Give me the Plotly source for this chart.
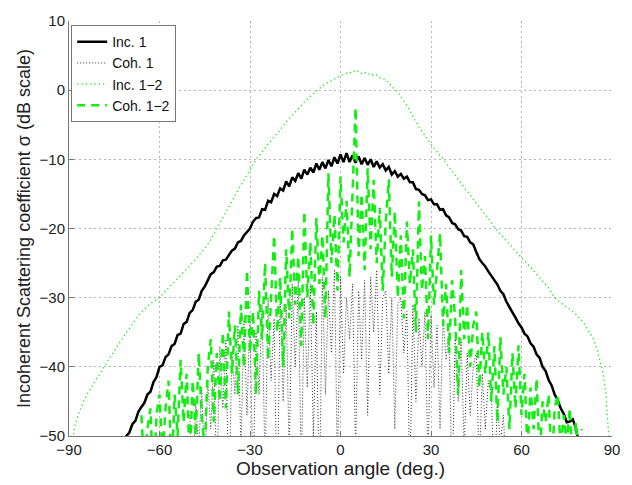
import numpy as np
import plotly.graph_objects as go

# Incoherent, medium 1 (solid black), 1-degree step from -72 to 79
inc1_angles = list(range(-72, 80))
inc1_vals = [-51.5, -50, -49.5, -48.3, -47.8, -46.5, -45.8, -45.2, -44, -43.6,
             -42.2, -41.5, -40, -39.8, -38.6, -38.2, -37, -36.7, -35.4, -35.2,
             -33.8, -33.5, -32.2, -31.8, -30.6, -30.3, -29, -28.4, -27.5, -26.6,
             -26.3, -25.5, -25.4, -24.6, -24.5, -23.8, -23.2, -22.9, -22, -21.8,
             -21, -20.5, -20, -19, -18.5, -18.4, -17.2, -17.3, -16, -16.2,
             -15, -15.3, -14.2, -14.5, -13.2, -13.9, -12.6, -13.1, -12, -12.8,
             -11.5, -12.2, -11.2, -11.9, -10.6, -11.5, -10.4, -11.3, -10.1, -11,
             -9.7, -10.6, -9.3, -10.4, -9.1, -10.4, -9.4, -10.5, -9.6, -10.7,
             -9.8, -10.8, -10, -11.1, -10.3, -11.2, -10.7, -11.6, -11.1, -12.2,
             -11.7, -12.5, -12.1, -12.8, -12.5, -13.3, -13.3, -14.3, -14.4, -15,
             -15.2, -15.9, -15.8, -16.5, -16.5, -17.3, -17.2, -18.1, -18.4, -19.2,
             -19.4, -20.1, -20.3, -21.1, -21.2, -22, -22.3, -23.4, -24.4, -25,
             -25.5, -26.2, -26.8, -27.5, -28.1, -29, -29.5, -30.6, -31.3, -32.2,
             -32.9, -33.7, -34.3, -35.2, -35.6, -36.6, -37.1, -38.2, -38.7, -40,
             -40.6, -41.9, -42.7, -44, -44.8, -46, -46.8, -48, -47.9, -47.6,
             -48.8, -51]

# Coherent, medium 1 (dotted black), 1-degree step from -50 to 55
coh1_angles = list(range(-50, 56))
coh1_vals = [-47, -58, -45, -52, -43, -55, -42, -49, -39, -57,
             -37, -46, -36, -60, -38, -44, -34, -52, -33, -47,
             -32.5, -58, -35, -44, -31, -55, -30, -42, -33, -62,
             -29, -45, -31, -53, -28, -40, -27.7, -56, -30, -43,
             -28, -50, -32, -60, -27, -44, -29, -38, -25.9, -55,
             -27, -41, -30, -36, -28, -52, -29, -39, -27.5, -47,
             -27, -35, -26, -44, -30, -29, -41, -30, -49, -31,
             -30, -38, -32, -57, -31, -45, -33, -40, -32, -54,
             -32.4, -43, -34, -49, -33, -39, -35, -58, -36, -45,
             -36, -52, -38, -47, -40, -38, -55, -41, -49, -42,
             -44, -58, -45, -51, -47, -56]

# Incoherent, media 1-2 (dotted green), 1-degree step from -89 to 89
inc12_angles = list(range(-89, 90))
inc12_vals = [-51, -48.5, -47, -45.8, -44.8, -44, -43.2, -42.6, -41.8, -41.2,
              -40.4, -39.8, -39, -38.4, -37.7, -37, -36.3, -35.6, -35, -34.5,
              -33.8, -33.2, -32.6, -32.1, -31.6, -31.2, -30.9, -30.5, -30.2, -30,
              -29.5, -29.1, -28.6, -28.1, -27.7, -27.2, -26.8, -26.3, -25.9, -25.4,
              -25, -24.4, -24, -23.4, -22.9, -22.3, -21.6, -20.8, -20, -19.3,
              -18.4, -17.6, -16.7, -16, -15.2, -14.5, -13.7, -13, -12.2, -11.5,
              -10.7, -10, -9.5, -9, -8.4, -7.8, -7.3, -6.8, -6.2, -5.7,
              -5.2, -4.6, -4.1, -3.6, -3.1, -2.6, -2.2, -1.7, -1.3, -0.9,
              -0.5, -0.2, 0.2, 0.6, 0.9, 1.1, 1.4, 1.6, 1.9, 2.1,
              2.2, 2.4, 2.6, 2.5, 2.9, 2.7, 2.4, 2.6, 2.3, 2.4,
              2.1, 2.2, 1.8, 1.7, 1.5, 1.0, 0.6, 0.2, -0.3, -0.9,
              -1.5, -2.2, -3, -3.9, -4.6, -5.3, -6, -6.6, -7.2, -7.8,
              -8.4, -9, -9.5, -9.9, -10.5, -11.2, -11.8, -12.4, -13, -13.5,
              -14.1, -14.6, -15.2, -15.7, -16.3, -16.9, -17.5, -18, -18.6, -19.1,
              -19.7, -20.3, -20.8, -21.3, -21.8, -22.3, -22.8, -23.3, -23.7, -24.2,
              -24.7, -25.2, -25.6, -26.1, -26.6, -27.1, -27.5, -28, -28.6, -29.3,
              -30, -30.4, -30.7, -31, -31.3, -31.6, -32, -32.4, -32.8, -33.3,
              -33.9, -34.6, -35.3, -36.1, -37.4, -39, -40.8, -44, -50.5]

# Coherent, media 1-2 (dashed green), 1-degree step from -66 to 80
coh12_angles = list(range(-66, 81))
coh12_vals = [-47, -55, -49, -46, -58, -47, -44, -53, -46, -42,
              -56, -44, -50, -39, -48, -41, -54, -42, -50, -38,
              -47, -52, -40, -36, -48, -38, -45, -35, -46, -32,
              -41, -34, -44, -31, -40, -26, -38, -32, -44, -29,
              -36, -25, -39, -30, -21, -35, -27, -40, -23, -33,
              -20, -31, -24, -37, -17.5, -30, -22, -34, -18.5, -28,
              -21, -33, -12, -25, -18, -29, -12.5, -22, -16, -27,
              -14, -2.5, -24, -15, -26, -11.3, -23, -13, -25, -17,
              -29, -19, -12.9, -27, -17.5, -30, -21, -33, -19, -28,
              -23, -35, -16.1, -29, -24, -36, -21, -31, -26, -20.7,
              -34, -28, -38, -27.5, -33, -44, -26, -36, -31, -40,
              -34, -32, -43, -35, -41, -35, -45, -37, -48, -35.7,
              -44, -40, -49, -38, -46, -36.9, -47, -41, -52, -43,
              -49, -41.7, -53, -45, -48, -44, -55, -46, -44, -52,
              -47, -51, -46, -55, -48, -53, -49]

x_ticks = [-90, -60, -30, 0, 30, 60, 90]
y_ticks = [-50, -40, -30, -20, -10, 0, 10]

FONT = "Liberation Sans, Arial, sans-serif"
GREEN = "#11ee11"

fig = go.Figure()
fig.add_trace(go.Scatter(x=inc1_angles, y=inc1_vals, mode="lines", name="Inc. 1",
                         line=dict(color="black", width=2.5)))
fig.add_trace(go.Scatter(x=coh1_angles, y=coh1_vals, mode="lines", name="Coh. 1",
                         line=dict(color="#333333", width=1, dash="1px,2px")))
fig.add_trace(go.Scatter(x=inc12_angles, y=inc12_vals, mode="lines", name="Inc. 1\u22122",
                         line=dict(color=GREEN, width=1.3, dash="1.3px,3px")))
fig.add_trace(go.Scatter(x=coh12_angles, y=coh12_vals, mode="lines", name="Coh. 1\u22122",
                         line=dict(color=GREEN, width=2.5, dash="8px,6px")))

axis_common = dict(
    showgrid=True, gridcolor="#b4b4b4", griddash="2px,3px", gridwidth=1,
    zeroline=False, showline=True, linecolor="#777777", linewidth=1,
    ticks="inside", ticklen=5, tickcolor="#777777",
    tickfont=dict(family=FONT, size=15, color="#222222"),
)

fig.update_layout(
    width=632, height=485,
    margin=dict(l=69, r=17, t=13, b=42),
    paper_bgcolor="white", plot_bgcolor="white",
    font=dict(family=FONT, color="#222222"),
    xaxis=dict(range=[-90, 90], tickvals=x_ticks,
               ticktext=[str(v).replace("-", "\u2212") for v in x_ticks],
               title=dict(text="Observation angle (deg.)", font=dict(size=19), standoff=2),
               **axis_common),
    yaxis=dict(range=[-50, 10], tickvals=y_ticks,
               ticktext=[str(v).replace("-", "\u2212") for v in y_ticks],
               title=dict(text="Incoherent Scattering coefficient \u03c3 (dB scale)",
                          font=dict(size=18), standoff=4),
               **axis_common),
    legend=dict(x=0.004, y=0.99, xanchor="left", yanchor="top",
                bgcolor="white", bordercolor="#777777", borderwidth=1,
                font=dict(size=14, family=FONT, color="#111111"),
                tracegroupgap=0, itemwidth=30),
    showlegend=True,
)

fig.write_html("out.html")
